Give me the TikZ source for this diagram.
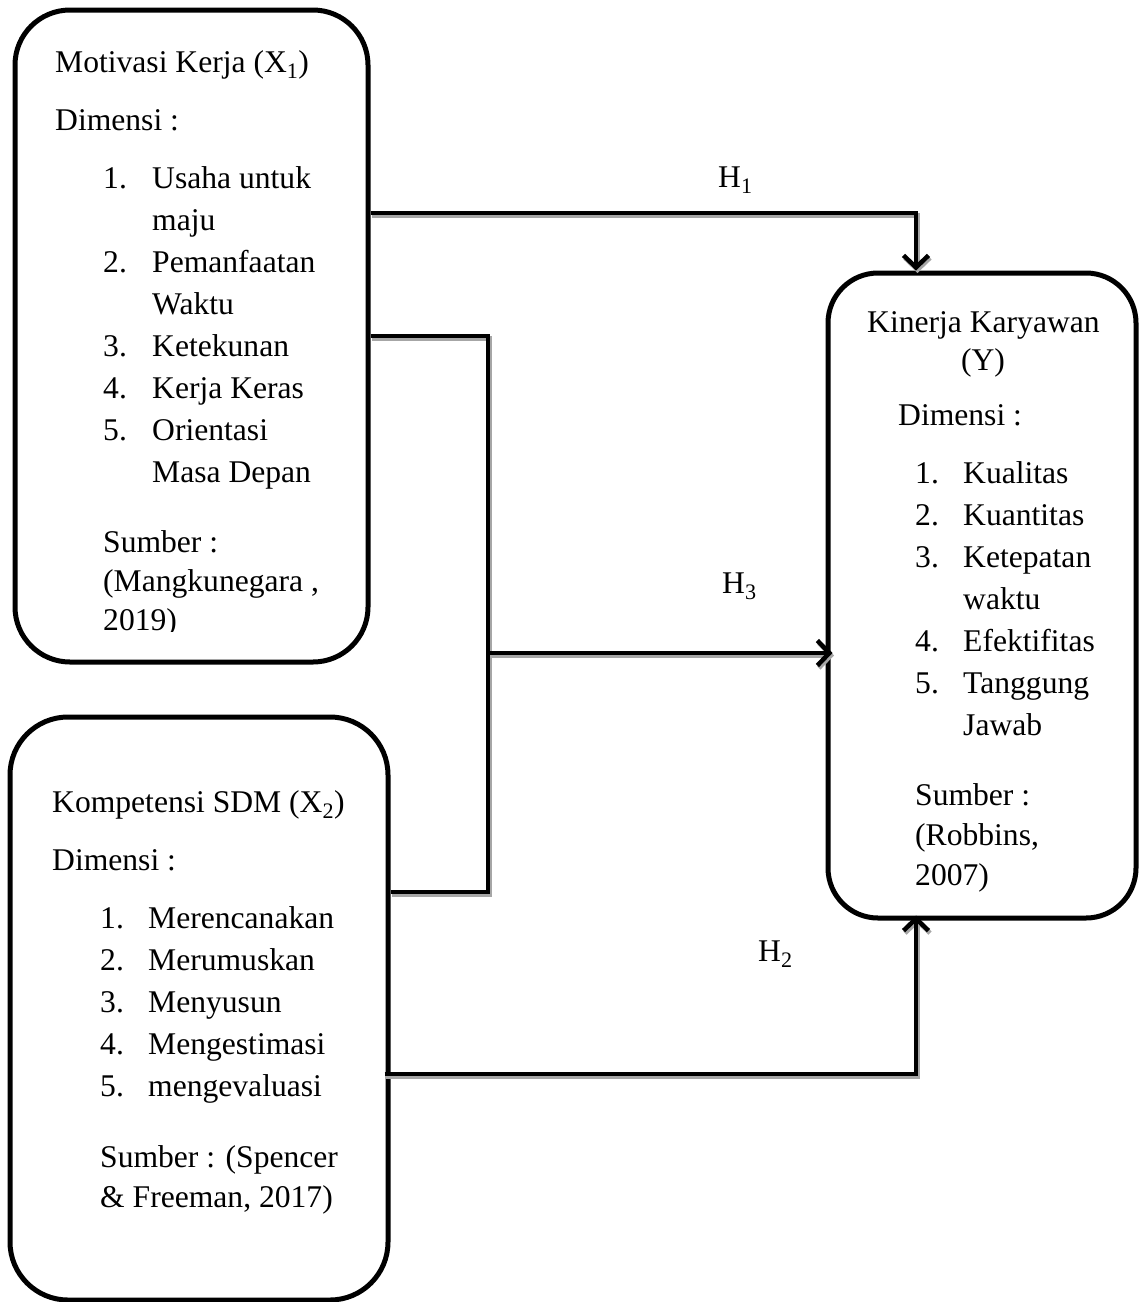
\documentclass[tikz,border=0pt]{standalone}
\usepackage{fontspec}
\setmainfont{Liberation Serif}
\usetikzlibrary{arrows.meta}
\begin{document}
\begin{tikzpicture}[x=1pt,y=-1pt,
  box/.style={draw, line width=5pt, rounded corners=#1, inner sep=0pt},
  box/.default=55pt,
  txt/.style={anchor=base west, inner sep=0pt, font=\fontsize{31.6}{38}\selectfont},
  ctxt/.style={txt, anchor=base},
  shade/.style={preaction={draw=black!35, line width=4.5pt, transform canvas={shift={(1.5pt,-2.5pt)}}}},
  wire/.style={line width=4.5pt, shade},
  conn/.style={wire, -{Straight Barb[length=12pt,width=25pt]}}]
\useasboundingbox (0,0) rectangle (1139,1302);
\fill[white] (0,0) rectangle (1139,1302);

% boxes
\node[box=55pt, minimum width=353pt, minimum height=652pt] (x1) at (191.5,336) {};
\node[box=58pt, minimum width=378pt, minimum height=583pt] (x2) at (199,1008.5) {};
\node[box=50pt, minimum width=308pt, minimum height=645pt] (y) at (982,595.5) {};

% X1 text
\node[txt] (a1) at (55,72) {Motivasi Kerja (X\textsubscript{1})};
\node[txt] (a2) at (55,130) {Dimensi :};
\node[txt] (a3n) at (103,188) {1.};
\node[txt] (a3) at (152,188) {Usaha untuk};
\node[txt] (a4) at (152,230) {maju};
\node[txt] (a5n) at (103,272) {2.};
\node[txt] (a5) at (152,272) {Pemanfaatan};
\node[txt] (a6) at (152,314) {Waktu};
\node[txt] (a7n) at (103,356) {3.};
\node[txt] (a7) at (152,356) {Ketekunan};
\node[txt] (a8n) at (103,398) {4.};
\node[txt] (a8) at (152,398) {Kerja Keras};
\node[txt] (a9n) at (103,440) {5.};
\node[txt] (a9) at (152,440) {Orientasi};
\node[txt] (a10) at (152,482) {Masa Depan};
\node[txt] (a11) at (103,552) {Sumber :};
\node[txt] (a12) at (103,591) {(Mangkunegara ,};
\begin{scope}
\clip (0,0) rectangle (400,631);
\node[txt] (a13) at (103,630) {2019)};
\end{scope}

% X2 text
\node[txt] (b1) at (52,812) {Kompetensi SDM (X\textsubscript{2})};
\node[txt] (b2) at (52,870) {Dimensi :};
\node[txt] (b3n) at (100,928) {1.};
\node[txt] (b3) at (148,928) {Merencanakan};
\node[txt] (b4n) at (100,970) {2.};
\node[txt] (b4) at (148,970) {Merumuskan};
\node[txt] (b5n) at (100,1012) {3.};
\node[txt] (b5) at (148,1012) {Menyusun};
\node[txt] (b6n) at (100,1054) {4.};
\node[txt] (b6) at (148,1054) {Mengestimasi};
\node[txt] (b7n) at (100,1096) {5.};
\node[txt] (b7) at (148,1096) {mengevaluasi};
\node[txt] (b8) at (100,1167) {Sumber : (Spencer};
\node[txt] (b9) at (100,1207) {\& Freeman, 2017)};

% Y text
\node[txt] (c1) at (867,332) {Kinerja Karyawan};
\node[ctxt] (c2) at (983,370) {(Y)};
\node[txt] (c3) at (898,425) {Dimensi :};
\node[txt] (c4n) at (915,483) {1.};
\node[txt] (c4) at (963,483) {Kualitas};
\node[txt] (c5n) at (915,525) {2.};
\node[txt] (c5) at (963,525) {Kuantitas};
\node[txt] (c6n) at (915,567) {3.};
\node[txt] (c6) at (963,567) {Ketepatan};
\node[txt] (c7) at (963,609) {waktu};
\node[txt] (c8n) at (915,651) {4.};
\node[txt] (c8) at (963,651) {Efektifitas};
\node[txt] (c9n) at (915,693) {5.};
\node[txt] (c9) at (963,693) {Tanggung};
\node[txt] (c10) at (963,735) {Jawab};
\node[txt] (c11) at (915,805) {Sumber :};
\node[txt] (c12) at (915,845) {(Robbins,};
\node[txt] (c13) at (915,885) {2007)};

% hypothesis labels
\node[txt] (h1) at (718,187) {H\textsubscript{1}};
\node[txt] (h3) at (722,593) {H\textsubscript{3}};
\node[txt] (h2) at (758,961) {H\textsubscript{2}};

% connectors
\coordinate (k1) at (916,213);
\coordinate (jt) at (488,336);
\coordinate (jb) at (488,892);
\coordinate (jm) at (488,653);
\coordinate (k2) at (916,1074);

\draw[conn] (x1.east |- k1) -- (k1) -- (y.north -| k1);
\draw[wire] (x1.east |- jt) -- (jt) -- (jb) -- (x2.east |- jb);
\draw[conn] (jm) -- ([xshift=7pt]y.west |- jm);
\draw[conn] ([xshift=-6pt]x2.east |- k2) -- (k2) -- ([yshift=5pt]y.south -| k2);
\end{tikzpicture}
\end{document}
